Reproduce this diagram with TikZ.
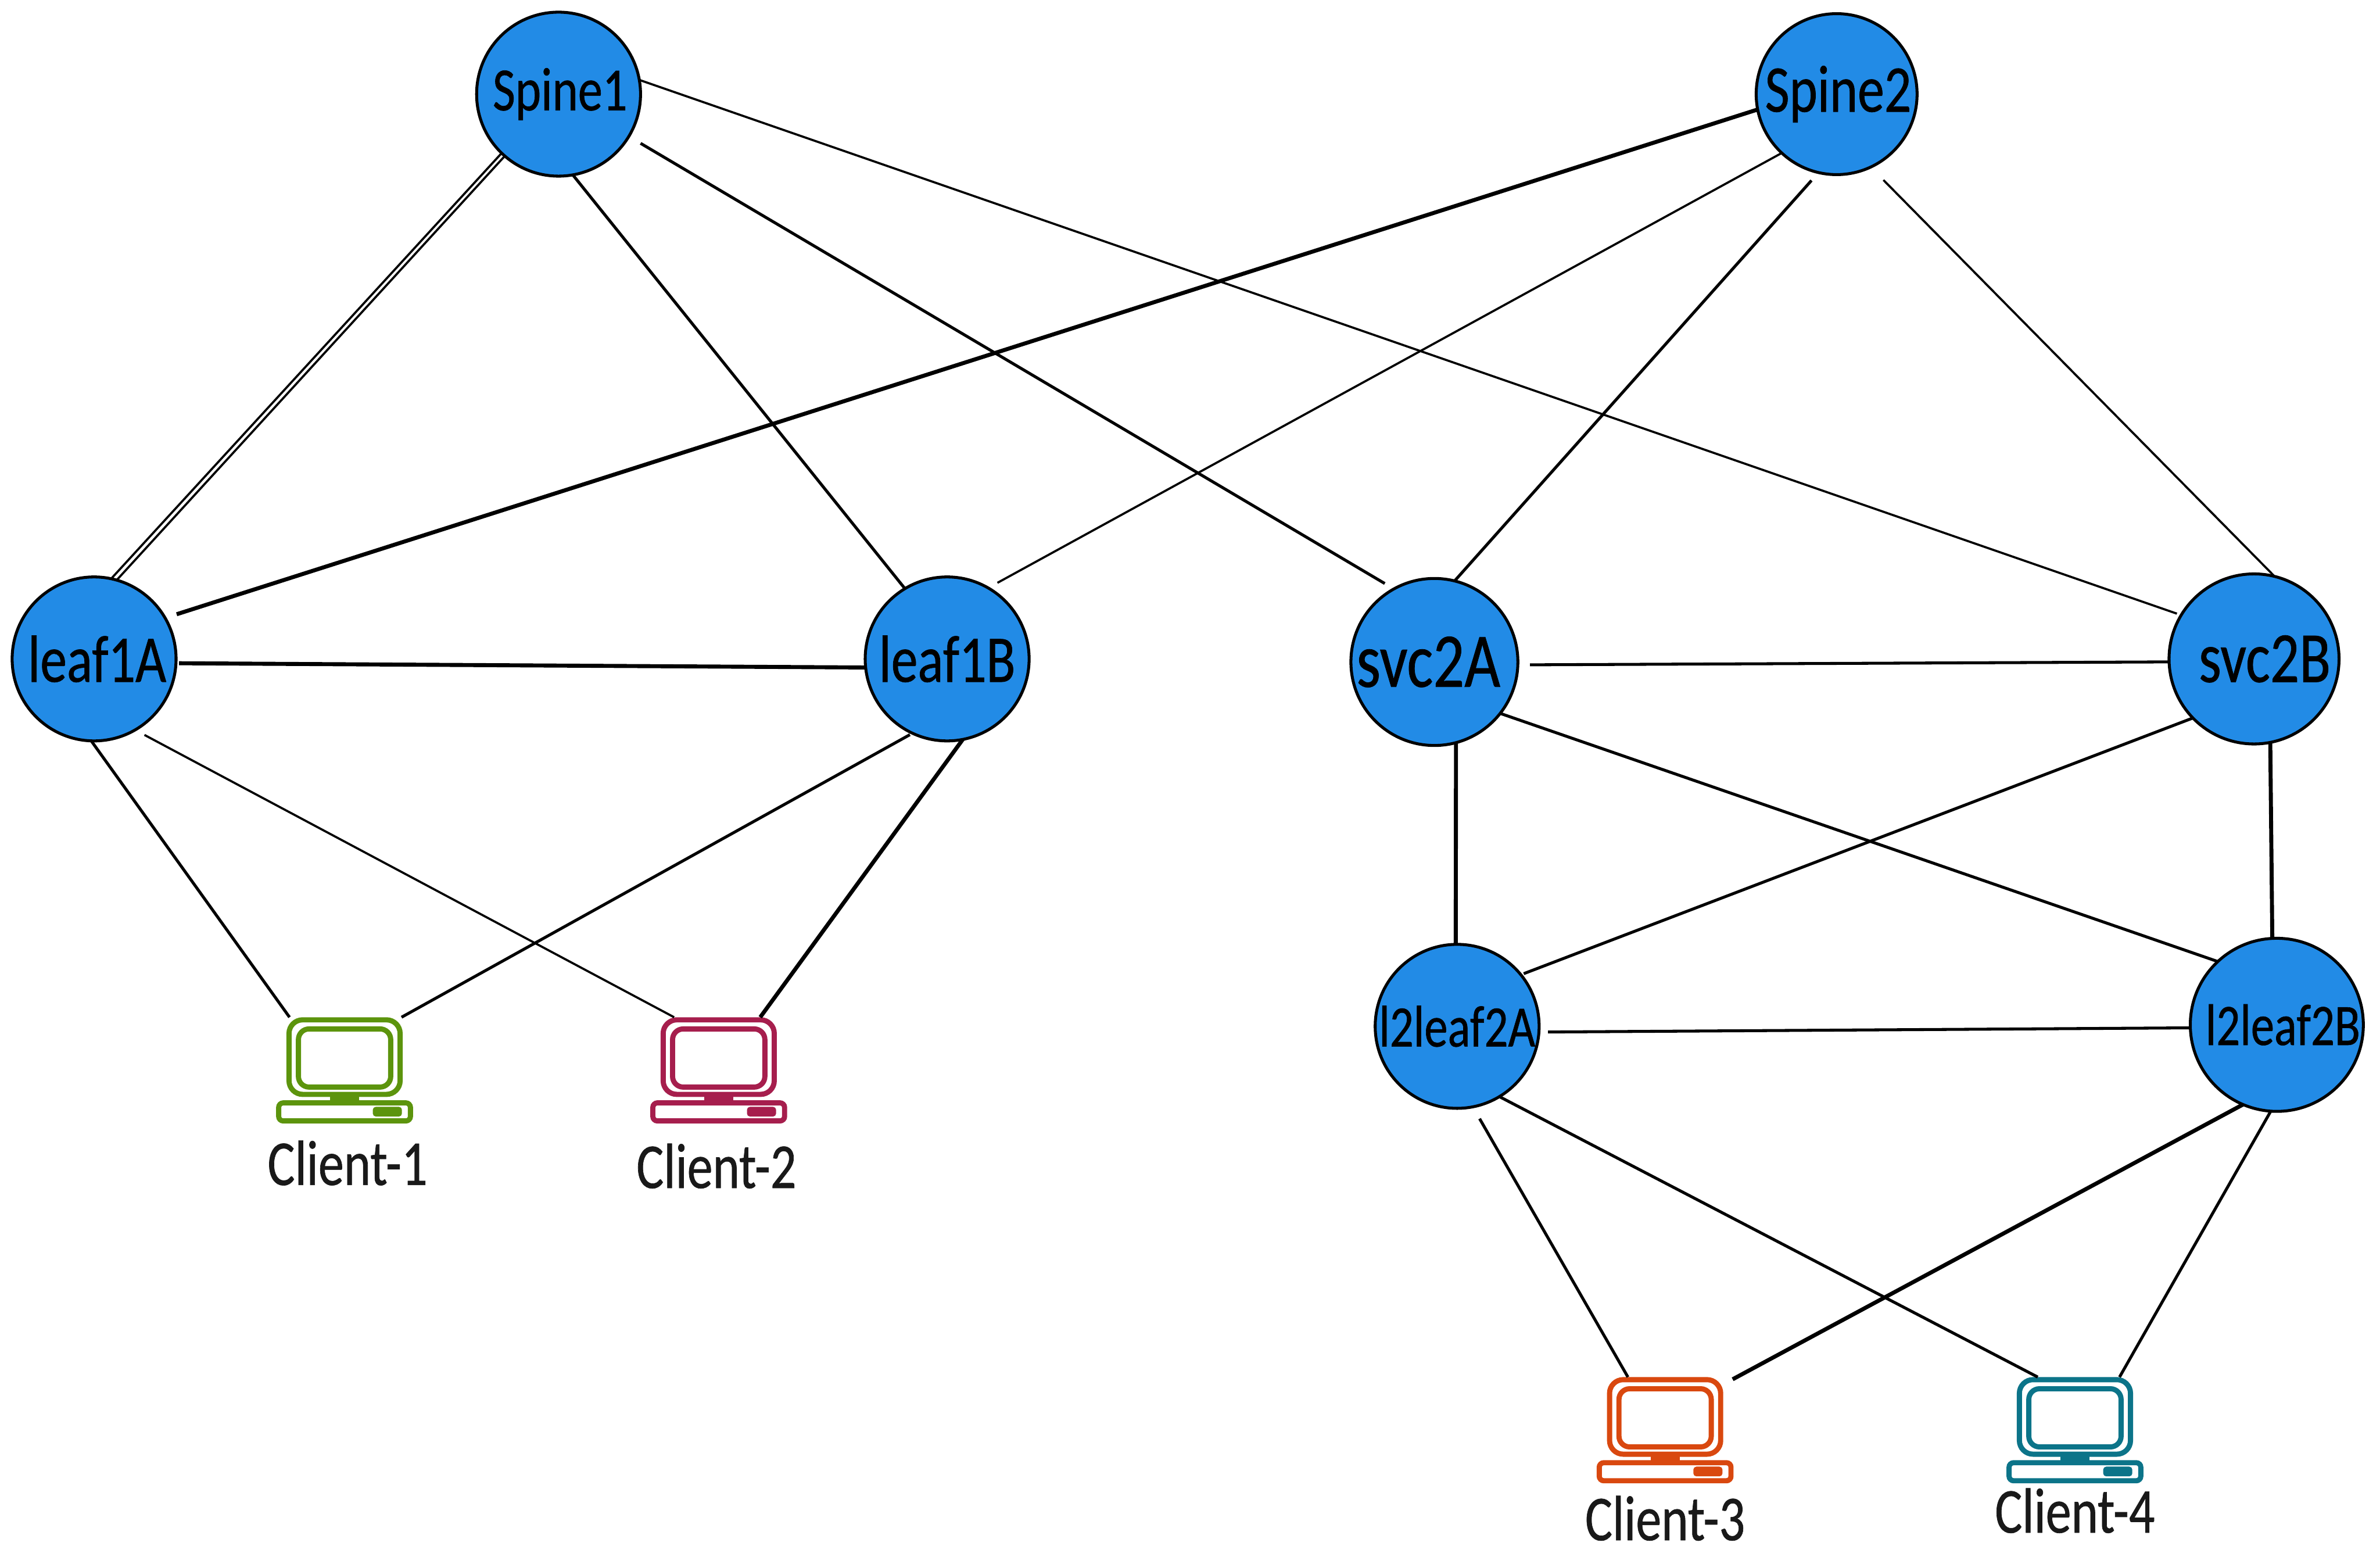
\documentclass[tikz,border=0pt]{standalone}
\usepackage{fontspec}
\setmainfont[FakeStretch=0.8,FakeBold=0.6]{Carlito}
\definecolor{hostblue}{HTML}{228BE6}
\definecolor{clientgreen}{HTML}{5C940D}
\definecolor{clientred}{HTML}{A61E4D}
\definecolor{clientorange}{HTML}{D9480F}
\definecolor{clientteal}{HTML}{0C7489}
\tikzset{
  switchnode/.style={circle, draw=black, line width=0.55pt, fill=hostblue, inner sep=0pt, outer sep=0pt,
    minimum size=#1 cm, font=\fontsize{12.5}{14}\selectfont},
  clientbox/.style={rectangle, inner sep=0pt, outer sep=0pt, minimum width=0.89cm, minimum height=0.70cm},
  clientlabel/.style={inner sep=0pt, text=black!90, font=\fontsize{12}{14}\selectfont},
  link/.style={draw=black, line width=0.55pt},
  linkthin/.style={draw=black, line width=0.4pt},
  linkthick/.style={draw=black, line width=0.75pt},
  pics/clienticon/.style={code={
    \draw[#1, line width=0.34mm, rounded corners=0.09cm] (-0.366,-0.158) rectangle (0.366,0.333);
    \draw[#1, line width=0.34mm, rounded corners=0.07cm] (-0.304,-0.110) rectangle (0.304,0.273);
    \fill[#1] (-0.096,-0.16) rectangle (0.096,-0.22);
    \draw[#1, line width=0.34mm, rounded corners=0.03cm] (-0.434,-0.214) rectangle (0.434,-0.333);
    \fill[#1, rounded corners=0.02cm] (0.186,-0.240) rectangle (0.378,-0.304);
  }},
}
\begin{document}
\begin{tikzpicture}
  \useasboundingbox (0,0) rectangle (15.68,-10.30);

  % switches
  \node[switchnode=1.08, font=\fontsize{11.5}{14}\selectfont] (Spine1) at (3.68,-0.62) {\makebox[0pt]{\hspace{0.02cm}Spine1}};
  \node[switchnode=1.06] (Spine2) at (12.10,-0.62) {\makebox[0pt]{\hspace{0.02cm}Spine2}};
  \node[switchnode=1.08] (leaf1A) at (0.62,-4.34) {\makebox[0pt]{\hspace{0.04cm}leaf1A}};
  \node[switchnode=1.08] (leaf1B) at (6.24,-4.34) {\makebox[0pt]{leaf1B}};
  \node[switchnode=1.10, font=\fontsize{14.5}{16}\selectfont] (svc2A) at (9.45,-4.36) {\makebox[0pt]{\hspace{-0.08cm}svc2A}};
  \node[switchnode=1.12, font=\fontsize{13.5}{16}\selectfont] (svc2B) at (14.85,-4.34) {\makebox[0pt]{\hspace{0.14cm}svc2B}};
  \node[switchnode=1.08, font=\fontsize{11}{14}\selectfont] (l2leaf2A) at (9.60,-6.76) {\makebox[0pt]{l2leaf2A}};
  \node[switchnode=1.14, font=\fontsize{11}{14}\selectfont] (l2leaf2B) at (15.00,-6.75) {\makebox[0pt]{\hspace{0.08cm}l2leaf2B}};

  % clients
  \node[clientbox] (Client1) at (2.27,-7.05) {};
  \pic at (Client1) {clienticon=clientgreen};
  \node[clientlabel] (Client1text) at (2.29,-7.66) {Client-1};
  \node[clientbox] (Client2) at (4.735,-7.05) {};
  \pic at (Client2) {clienticon=clientred};
  \node[clientlabel] (Client2text) at (4.72,-7.68) {Client-2};
  \node[clientbox] (Client3) at (10.97,-9.42) {};
  \pic at (Client3) {clienticon=clientorange};
  \node[clientlabel] (Client3text) at (10.97,-10.00) {Client-3};
  \node[clientbox] (Client4) at (13.67,-9.42) {};
  \pic at (Client4) {clienticon=clientteal};
  \node[clientlabel] (Client4text) at (13.67,-9.95) {Client-4};

  % spine links
  \draw[linkthin] (Spine1.229) -- (leaf1A.74) (Spine1.226) -- (leaf1A.78);
  \draw[link] (Spine1.280) -- (leaf1B.121);
  \draw[link, shorten <=0.09cm, shorten >=0.07cm] (Spine1.329) -- (svc2A.119);
  \draw[linkthin, shorten >=0.03cm] (Spine1.10) -- (svc2B.149);
  \draw[linkthick, shorten >=0.08cm] (Spine2.191) -- (leaf1A.30);
  \draw[linkthin, shorten >=0.07cm] (Spine2.227) -- (leaf1B.60);
  \draw[link, shorten <=0.07cm] (Spine2.257) -- (svc2A.76);
  \draw[linkthin, shorten <=0.12cm] (Spine2.295) -- (svc2B.76);

  % links inside the pairs
  \draw[linkthick, shorten <=0.02cm] (leaf1A.357) -- (leaf1B.186);
  \draw[link, shorten <=0.08cm] (svc2A.358) -- (svc2B.182);
  \draw[link, shorten <=0.06cm] (l2leaf2A.356) -- (l2leaf2B.182);

  % downlinks
  \draw[link] (leaf1A.268) -- (Client1.136);
  \draw[linkthin, shorten <=0.07cm] (leaf1A.300) -- (Client2.130);
  \draw[link, shorten <=0.02cm] (leaf1B.245) -- (Client1.43);
  \draw[linkthick] (leaf1B.281) -- (Client2.52);
  \draw[linkthick] (svc2A.285) -- (l2leaf2A.91);
  \draw[link] (svc2A.322) -- (l2leaf2B.133);
  \draw[link, shorten >=0.02cm] (svc2B.224) -- (l2leaf2A.39);
  \draw[linkthick] (svc2B.281) -- (l2leaf2B.93);
  \draw[link, shorten <=0.09cm] (l2leaf2A.281) -- (Client3.125);
  \draw[link] (l2leaf2A.301) -- (Client4.125);
  \draw[linkthick] (l2leaf2B.247) -- (Client3.37);
  \draw[link] (l2leaf2B.266) -- (Client4.50);
\end{tikzpicture}
\end{document}
